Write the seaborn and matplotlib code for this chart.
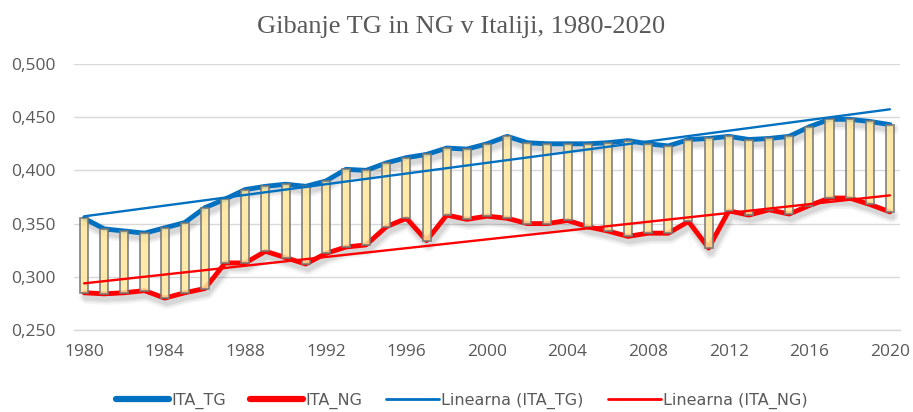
import numpy as np
import pandas as pd
import matplotlib
matplotlib.use("Agg")
import matplotlib.pyplot as plt
import matplotlib.patheffects as pe
from matplotlib.ticker import FuncFormatter
from matplotlib.lines import Line2D
import seaborn as sns

years = list(range(1980, 2021))
ita_tg = [0.355, 0.345, 0.343, 0.341, 0.346, 0.351, 0.365, 0.373, 0.382, 0.385,
          0.387, 0.385, 0.390, 0.401, 0.400, 0.407, 0.412, 0.415, 0.421, 0.420,
          0.425, 0.432, 0.426, 0.425, 0.425, 0.425, 0.426, 0.428, 0.425, 0.423,
          0.429, 0.430, 0.432, 0.429, 0.430, 0.432, 0.441, 0.448, 0.448, 0.446,
          0.443]
ita_ng = [0.285, 0.284, 0.285, 0.287, 0.280, 0.285, 0.289, 0.313, 0.313, 0.324,
          0.318, 0.312, 0.322, 0.328, 0.330, 0.347, 0.355, 0.334, 0.358, 0.354,
          0.357, 0.355, 0.350, 0.350, 0.353, 0.347, 0.343, 0.338, 0.341, 0.341,
          0.352, 0.327, 0.362, 0.358, 0.363, 0.359, 0.367, 0.374, 0.374, 0.368,
          0.361]
x_ticks = list(range(1980, 2021, 4))
y_ticks = [0.25, 0.30, 0.35, 0.40, 0.45, 0.50]
title = "Gibanje TG in NG v Italiji, 1980-2020"
labels = ["ITA_TG", "ITA_NG", "Linearna (ITA_TG)", "Linearna (ITA_NG)"]

sns.set_theme(style="white")
plt.rcParams['font.family'] = ['Open Sans', 'DejaVu Sans']

df = pd.DataFrame({"year": years, "TG": ita_tg, "NG": ita_ng})

BLUE = "#0070C0"
RED = "#FF0000"
GREY = "#595959"

fig = plt.figure(figsize=(9.13, 4.12), dpi=100)
ax = fig.add_axes([74 / 913, 1 - 330 / 412, (900 - 74) / 913, (330 - 64) / 412])

shadow = [pe.SimpleLineShadow(offset=(1.5, -3), shadow_color="black", alpha=0.04, linewidth=10),
          pe.SimpleLineShadow(offset=(1.5, -3), shadow_color="black", alpha=0.05, linewidth=7.5),
          pe.SimpleLineShadow(offset=(1.5, -3), shadow_color="black", alpha=0.07, linewidth=5),
          pe.Normal()]

sns.lineplot(data=df, x="year", y="TG", ax=ax, color=BLUE, linewidth=3.5,
             zorder=2, path_effects=shadow)
sns.lineplot(data=df, x="year", y="NG", ax=ax, color=RED, linewidth=3.5,
             zorder=2, path_effects=shadow)

# up-down bars
ax.bar(df["year"], df["TG"] - df["NG"], bottom=df["NG"], width=0.4,
       color="#FFE699", edgecolor="#767676", linewidth=1.3, alpha=0.85, zorder=3)

sns.regplot(data=df, x="year", y="TG", ax=ax, scatter=False, ci=None,
            line_kws=dict(color=BLUE, linewidth=1.7, zorder=4))
sns.regplot(data=df, x="year", y="NG", ax=ax, scatter=False, ci=None,
            line_kws=dict(color=RED, linewidth=1.7, zorder=4))

ax.set_xlim(1979.5, 2020.5)
ax.set_ylim(0.25, 0.50)
ax.set_xticks(x_ticks)
ax.set_yticks(y_ticks)
ax.yaxis.set_major_formatter(FuncFormatter(lambda v, p: f"{v:.3f}".replace(".", ",")))
ax.set_xlabel("")
ax.set_ylabel("")
ax.grid(axis="y", color="#D9D9D9", linewidth=1.0, zorder=0)
ax.set_axisbelow(True)
for s in ["top", "right", "left"]:
    ax.spines[s].set_visible(False)
ax.spines["bottom"].set_color("#D9D9D9")
ax.spines["bottom"].set_linewidth(1.0)
ax.tick_params(axis="both", length=0, colors=GREY, labelsize=12.5)
ax.tick_params(axis="y", pad=13)
ax.tick_params(axis="x", pad=10)

fig.text(0.505, 1 - 33 / 412, title, ha="center", va="baseline",
         fontsize=19, color=GREY, family=["Liberation Serif", "DejaVu Serif"])

handles = [Line2D([], [], color=BLUE, linewidth=4.5, solid_capstyle="round"),
           Line2D([], [], color=RED, linewidth=4.5, solid_capstyle="round"),
           Line2D([], [], color=BLUE, linewidth=2),
           Line2D([], [], color=RED, linewidth=2)]
leg = fig.legend(handles, labels, loc="center", bbox_to_anchor=(462 / 913, 1 - 401 / 412),
                 ncol=4, frameon=False, handlelength=3.3,
                 handletextpad=0.15, columnspacing=1.5,
                 prop=dict(family=["DejaVu Sans"], size=11.5))
for t in leg.get_texts():
    t.set_color(GREY)

fig.savefig("out.png", dpi=100)
